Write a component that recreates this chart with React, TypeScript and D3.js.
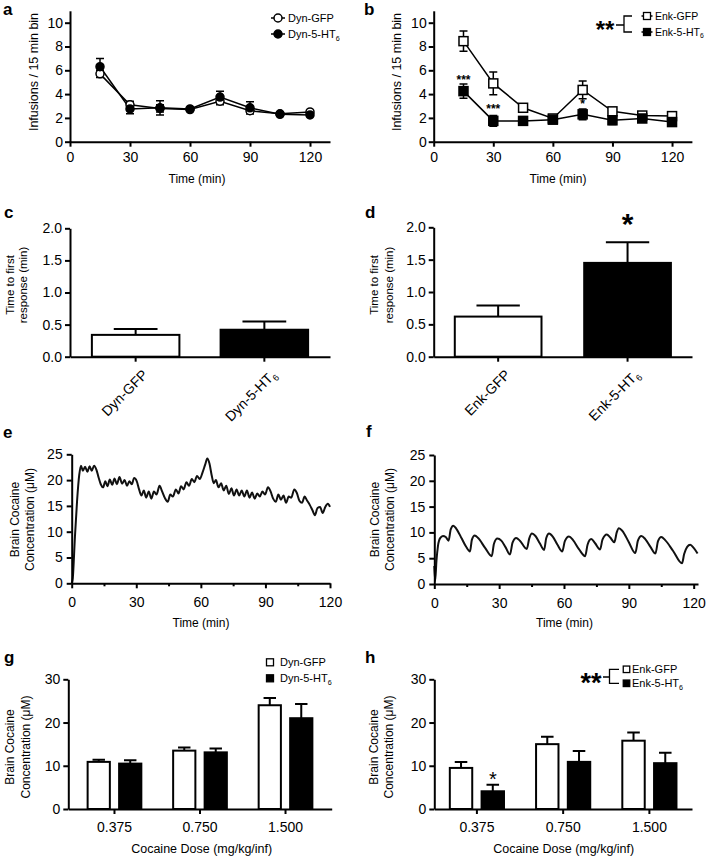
import React, { useEffect, useRef } from 'react';
import * as d3 from 'd3';

// a, b: infusions per 15 min bin
const timeBins = [15, 30, 45, 60, 75, 90, 105, 120];
const dynGfpMean = [5.7, 3.1, 2.8, 2.7, 3.4, 2.6, 2.35, 2.5];
const dynGfpSem = [0.3, 0.3, 0.3, 0.1, 0.3, 0.25, 0.1, 0.1];
const dynHt6Mean = [6.3, 2.75, 2.85, 2.75, 3.75, 2.85, 2.3, 2.25];
const dynHt6Sem = [0.7, 0.4, 0.6, 0.1, 0.5, 0.5, 0.1, 0.1];
const enkGfpMean = [8.45, 4.9, 2.85, 1.95, 4.35, 2.55, 2.2, 2.15];
const enkGfpSem = [0.85, 0.95, 0.25, 0.2, 0.75, 0.25, 0.2, 0.2];
const enkHt6Mean = [4.25, 1.75, 1.75, 1.85, 2.3, 1.8, 1.95, 1.65];
const enkHt6Sem = [0.6, 0.45, 0.35, 0.25, 0.45, 0.35, 0.3, 0.35];
const enkStars = [
  { t: 15, s: '***', v: 5.4 },
  { t: 30, s: '***', v: 3.0 },
  { t: 75, s: '*', v: 3.4 },
];

// c, d: time to first response
const dynGroups = ['Dyn-GFP', 'Dyn-5-HT6'];
const enkGroups = ['Enk-GFP', 'Enk-5-HT6'];
const dynLatency = [0.34, 0.42];
const dynLatencySem = [0.09, 0.13];
const enkLatency = [0.62, 1.45];
const enkLatencySem = [0.17, 0.32];

// e, f: modelled brain cocaine (t min, µM)
const dynModel: [number, number][] = [
  [0, 0], [0.5, 1], [1.5, 9], [2.5, 16], [3.5, 21], [4.3, 22.8], [5.2, 21.8], [6.2, 22.6],
  [7.3, 21.6], [8.3, 22.7], [9.3, 21.8], [10.4, 22.8], [11.5, 22], [12.5, 20.5], [13.5, 19.2],
  [14.6, 18.6], [15.6, 19.8], [16.6, 18.8], [17.7, 20.1], [18.8, 19.1], [19.9, 20.3], [21, 19.2],
  [22.2, 20.6], [23.4, 19.3], [24.6, 20], [25.7, 18.9], [26.8, 19.8], [27.9, 19.2], [29, 20.4],
  [30.2, 19.8], [31.3, 18.2], [32.4, 17], [33.5, 18], [34.6, 16.6], [35.8, 17.8], [37, 16.4],
  [38.2, 17.8], [39.4, 17.2], [40.8, 18.9], [42, 17.8], [43.2, 16.6], [44.6, 15.8], [45.8, 17.2],
  [47, 16.8], [48.4, 18.2], [49.6, 17.4], [50.8, 18.8], [52, 18.2], [53.3, 19.6], [54.5, 18.9],
  [55.8, 20.2], [57, 19.6], [58.2, 20.8], [59.5, 20.2], [60.8, 21.5], [62, 23], [63, 24.2],
  [64, 23.2], [65, 21], [66, 19.4], [67, 20], [68.2, 18.6], [69.4, 19.4], [70.6, 18], [71.8, 18.9],
  [73, 17.3], [74.2, 18.4], [75.4, 17], [76.6, 18.2], [77.8, 17], [79, 18], [80.2, 16.8], [81.4, 18],
  [82.6, 16.6], [83.8, 17.6], [85, 16.4], [86.2, 17.4], [87.4, 16.8], [88.6, 17.8], [89.8, 17.2],
  [91.2, 18.6], [92.4, 17.8], [93.6, 16.4], [94.8, 15.8], [96, 17.2], [97.2, 16.2], [98.4, 17],
  [99.6, 15.6], [100.8, 16.8], [102, 16.6], [103.4, 18.2], [104.6, 17.5], [105.8, 16], [107, 15.6],
  [108.2, 16.8], [109.4, 16], [110.6, 15.2], [111.8, 14.2], [113, 13.2], [114.2, 14.6], [115.4, 14.8],
  [116.6, 13.6], [117.8, 14.8], [119, 15.4], [120, 14.8],
];
const enkModel: [number, number][] = [
  [0, 3.5], [0.4, 0.6], [1.0, 4.5], [1.7, 7.4], [2.7, 8.9], [4.0, 9.3], [5.3, 9.1], [6.6, 8.4],
  [7.6, 10.6], [8.8, 11.3], [10.2, 10.7], [12.7, 8.8], [14.6, 7.3], [16.5, 6.3], [17.4, 8.6],
  [18.7, 9.4], [20.3, 8.9], [23.5, 7.0], [26.6, 5.4], [27.6, 7.8], [29.2, 8.8], [31, 8.4], [33, 7.1],
  [35.0, 5.7], [36.2, 8.0], [37.9, 8.9], [39.6, 8.4], [42.8, 6.8], [43.9, 8.8], [45.2, 9.8],
  [46.8, 9.3], [48.8, 7.9], [50.8, 6.6], [51.8, 8.9], [53.1, 9.8], [54.8, 9.2], [57, 7.6], [59.2, 6.3],
  [60.4, 8.3], [62.3, 9.2], [64.2, 8.5], [67, 6.7], [69.8, 5.4], [70.9, 7.6], [72.6, 8.7], [74.4, 7.9],
  [76.7, 6.7], [77.8, 8.6], [79.8, 9.6], [81.4, 9.0], [83.3, 8.1], [84.4, 10.0], [85.4, 10.8],
  [87.0, 10.3], [90.0, 8.1], [93.0, 6.0], [94.2, 8.4], [95.8, 9.3], [97.6, 8.7], [100.0, 7.2],
  [102.3, 5.9], [103.5, 8.3], [105.0, 9.1], [106.8, 8.5], [110.5, 6.4], [114.6, 4.0], [115.6, 5.8],
  [117.0, 7.2], [118.4, 7.6], [120.0, 7.0], [121.8, 5.9],
];

// g, h: brain cocaine by dose
const doses = ['0.375', '0.750', '1.500'];
const dynGfpConc = [10.9, 13.5, 24.0];
const dynGfpConcSem = [0.5, 0.7, 1.7];
const dynHt6Conc = [10.5, 13.1, 21.0];
const dynHt6ConcSem = [0.8, 0.9, 3.3];
const enkGfpConc = [9.5, 15.0, 15.8];
const enkGfpConcSem = [1.4, 1.7, 1.9];
const enkHt6Conc = [4.1, 10.9, 10.6];
const enkHt6ConcSem = [1.5, 2.5, 2.4];

const FONT = '"Liberation Sans", Arial, sans-serif';

const styleAxis = (g: any) => {
  g.attr('font-family', FONT).attr('font-size', 14);
  g.select('.domain').attr('stroke', '#000').attr('stroke-width', 2);
  g.selectAll('.tick line').attr('stroke', '#000').attr('stroke-width', 2);
  g.selectAll('.tick text').attr('fill', '#000');
};

const leftAxis = (svg: any, y: any, x0: number, ticks: number[], fmt: any, pad: number) => {
  const g = svg.append('g').attr('transform', `translate(${x0},0)`)
    .call(d3.axisLeft(y).tickValues(ticks).tickFormat(fmt).tickSize(5).tickPadding(pad).tickSizeOuter(0));
  styleAxis(g);
};

const bottomAxis = (svg: any, x: any, y0: number, ticks: any, pad: number, labels = true) => {
  let ax = d3.axisBottom(x).tickSize(5).tickPadding(pad).tickSizeOuter(0);
  if (ticks) ax = ax.tickValues(ticks);
  if (!labels) ax = ax.tickFormat(() => '');
  const g = svg.append('g').attr('transform', `translate(0,${y0})`).call(ax);
  styleAxis(g);
  return g;
};

const addText = (svg: any, x: number, y: number, s: string, size: number, anchor = 'middle', weight = 'normal') =>
  svg.append('text').attr('x', x).attr('y', y).attr('font-size', size).attr('font-family', FONT)
    .attr('font-weight', weight).attr('text-anchor', anchor).attr('fill', '#000').text(s);

// label ending in "HT6" gets a subscript 6
const withSub = (t: any, s: string, size: number) => {
  if (s.endsWith('HT6')) {
    t.text(null);
    t.append('tspan').text(s.slice(0, -1));
    t.append('tspan').text('6').attr('font-size', size * 0.65).attr('dy', size * 0.25);
  }
  return t;
};

const yTitle = (svg: any, lines: string[], xs: number[], cy: number, size: number) => {
  lines.forEach((s, i) => {
    svg.append('text').attr('transform', `translate(${xs[i]},${cy}) rotate(-90)`)
      .attr('text-anchor', 'middle').attr('font-size', size).attr('font-family', FONT).text(s);
  });
};

const drawTimecourse = (svg: any, xRange: [number, number], series: any[], shape: string) => {
  const x = d3.scaleLinear().domain([0, 130]).range(xRange);
  const y = d3.scaleLinear().domain([0, 11]).range([141.7, 10.8]);
  const line = d3.line<number>().x((_, i) => x(timeBins[i])).y(d => y(d));
  series.forEach(s => {
    svg.append('path').datum(s.mean).attr('d', line).attr('fill', 'none')
      .attr('stroke', '#000').attr('stroke-width', 1.5);
  });
  series.forEach(s => {
    s.mean.forEach((m: number, i: number) => {
      const cx = x(timeBins[i]);
      const top = y(m + s.sem[i]);
      const bot = y(m - s.sem[i]);
      svg.append('path')
        .attr('d', `M${cx},${top}V${bot}M${cx - 4},${top}H${cx + 4}M${cx - 4},${bot}H${cx + 4}`)
        .attr('stroke', '#000').attr('stroke-width', 1.5).attr('fill', 'none');
    });
  });
  series.forEach(s => {
    s.mean.forEach((m: number, i: number) => {
      const cx = x(timeBins[i]);
      if (shape === 'circle') {
        svg.append('circle').attr('cx', cx).attr('cy', y(m)).attr('r', 4)
          .attr('fill', s.filled ? '#000' : '#fff').attr('stroke', '#000').attr('stroke-width', 1.5);
      } else {
        svg.append('rect').attr('x', cx - 4.5).attr('y', y(m) - 4.5).attr('width', 9).attr('height', 9)
          .attr('fill', s.filled ? '#000' : '#fff').attr('stroke', '#000').attr('stroke-width', 1.5);
      }
    });
  });
  leftAxis(svg, y, xRange[0], [0, 2, 4, 6, 8, 10], d3.format('d'), 2);
  bottomAxis(svg, x, 141.7, [0, 30, 60, 90, 120], 5);
  return { x, y };
};

const drawLatency = (svg: any, xRange: [number, number], yTop: number, groups: string[], means: number[],
  sems: number[], pI: number, pO: number) => {
  const x = d3.scaleBand().domain(groups).range(xRange).paddingInner(pI).paddingOuter(pO);
  const y = d3.scaleLinear().domain([0, 2]).range([356.7, yTop]);
  const bw = x.bandwidth();
  groups.forEach((gname, i) => {
    const x0 = x(gname) as number;
    const cx = x0 + bw / 2;
    svg.append('path')
      .attr('d', `M${cx},${y(means[i])}V${y(means[i] + sems[i])}M${cx - bw * 0.25},${y(means[i] + sems[i])}H${cx + bw * 0.25}`)
      .attr('stroke', '#000').attr('stroke-width', 2).attr('fill', 'none');
    svg.append('rect').attr('x', x0).attr('y', y(means[i])).attr('width', bw)
      .attr('height', y(0) - y(means[i])).attr('fill', i === 0 ? '#fff' : '#000')
      .attr('stroke', '#000').attr('stroke-width', 2);
  });
  leftAxis(svg, y, xRange[0], [0, 0.5, 1, 1.5, 2], d3.format('.1f'), 3);
  bottomAxis(svg, x, 356.7, null, 3, false);
  groups.forEach(gname => {
    const cx = (x(gname) as number) + bw / 2;
    const t = svg.append('text')
      .attr('transform', `translate(${cx + 13},${356.7 + 19}) rotate(-45)`)
      .attr('text-anchor', 'end').attr('font-size', 14).attr('font-family', FONT).text(gname);
    withSub(t, gname, 14);
  });
  return { x, y };
};

const drawModel = (svg: any, xDomMax: number, xRange: [number, number], y0: number, y25: number, data: [number, number][]) => {
  const x = d3.scaleLinear().domain([0, xDomMax]).range(xRange);
  const y = d3.scaleLinear().domain([0, 25]).range([y0, y25]);
  const line = d3.line<[number, number]>().x(d => x(d[0])).y(d => y(d[1])).curve(d3.curveMonotoneX);
  svg.append('path').datum(data).attr('d', line).attr('fill', 'none')
    .attr('stroke', '#111').attr('stroke-width', 2).attr('stroke-linejoin', 'round');
  leftAxis(svg, y, xRange[0], [0, 5, 10, 15, 20, 25], d3.format('d'), 4);
  bottomAxis(svg, x, y0, [0, 30, 60, 90, 120], 9);
  const minor = svg.append('g').attr('transform', `translate(0,${y0})`)
    .call(d3.axisBottom(x).tickValues([15, 45, 75, 105]).tickSize(3).tickFormat(() => '').tickSizeOuter(0));
  minor.select('.domain').remove();
  minor.selectAll('.tick line').attr('stroke', '#000').attr('stroke-width', 2);
};

const drawDose = (svg: any, xRange: [number, number], pO: number, gfp: number[], gfpSem: number[],
  ht6: number[], ht6Sem: number[]) => {
  const x0 = d3.scaleBand().domain(doses).range(xRange).paddingInner(0.372).paddingOuter(pO);
  const x1 = d3.scaleBand().domain(['gfp', 'ht6']).range([0, x0.bandwidth()]).paddingInner(0.294);
  const y = d3.scaleLinear().domain([0, 30]).range([809, 679.3]);
  const bw = x1.bandwidth();
  doses.forEach((d, i) => {
    [{ k: 'gfp', m: gfp[i], e: gfpSem[i], f: '#fff' }, { k: 'ht6', m: ht6[i], e: ht6Sem[i], f: '#000' }].forEach(b => {
      const bx = (x0(d) as number) + (x1(b.k) as number);
      const cx = bx + bw / 2;
      svg.append('path')
        .attr('d', `M${cx},${y(b.m)}V${y(b.m + b.e)}M${cx - bw * 0.28},${y(b.m + b.e)}H${cx + bw * 0.28}`)
        .attr('stroke', '#000').attr('stroke-width', 2).attr('fill', 'none');
      svg.append('rect').attr('x', bx).attr('y', y(b.m)).attr('width', bw).attr('height', y(0) - y(b.m))
        .attr('fill', b.f).attr('stroke', '#000').attr('stroke-width', 2);
    });
  });
  leftAxis(svg, y, xRange[0], [0, 10, 20, 30], d3.format('d'), 3);
  bottomAxis(svg, x0, 809, null, 8);
  return { x0, x1, y };
};

const legendRow = (svg: any, cx: number, cy: number, shape: string, filled: boolean, label: string,
  size: number, lineHalf: number, symSize: number, textX: number) => {
  if (lineHalf > 0) {
    svg.append('path').attr('d', `M${cx - lineHalf},${cy}H${cx + lineHalf}`)
      .attr('stroke', '#000').attr('stroke-width', 1.5);
  }
  if (shape === 'circle') {
    svg.append('circle').attr('cx', cx).attr('cy', cy).attr('r', symSize / 2)
      .attr('fill', filled ? '#000' : '#fff').attr('stroke', '#000').attr('stroke-width', 1.5);
  } else {
    svg.append('rect').attr('x', cx - symSize / 2).attr('y', cy - symSize / 2)
      .attr('width', symSize).attr('height', symSize)
      .attr('fill', filled ? '#000' : '#fff').attr('stroke', '#000').attr('stroke-width', 1.3);
  }
  const t = addText(svg, textX, cy + size * 0.36, label, size, 'start');
  withSub(t, label, size);
};

const App = () => {
  const svgRef = useRef<SVGSVGElement>(null);

  useEffect(() => {
    const svg = d3.select(svgRef.current);
    svg.selectAll('*').remove();

    // panel letters
    [['a', 3, 15], ['b', 364, 15], ['c', 4, 218], ['d', 365, 218], ['e', 3, 438],
      ['f', 366, 437], ['g', 4, 663], ['h', 365, 663]].forEach(([s, x, y]) =>
      addText(svg, x as number, y as number, s as string, 17, 'start', 'bold'));

    // a
    drawTimecourse(svg, [70, 330], [
      { mean: dynGfpMean, sem: dynGfpSem, filled: false },
      { mean: dynHt6Mean, sem: dynHt6Sem, filled: true },
    ], 'circle');
    yTitle(svg, ['Infusions / 15 min bin'], [37.5], 72, 12.5);
    addText(svg, 197, 183, 'Time (min)', 12);
    legendRow(svg, 278, 18, 'circle', false, 'Dyn-GFP', 11, 7, 8, 288);
    legendRow(svg, 278, 34, 'circle', true, 'Dyn-5-HT6', 11, 7, 8, 288);

    // b
    const b = drawTimecourse(svg, [433.7, 691.9], [
      { mean: enkGfpMean, sem: enkGfpSem, filled: false },
      { mean: enkHt6Mean, sem: enkHt6Sem, filled: true },
    ], 'square');
    enkStars.forEach(s => addText(svg, b.x(s.t), b.y(s.v) + 6.5, s.s, 12, 'middle', 'bold'));
    yTitle(svg, ['Infusions / 15 min bin'], [401], 72, 12.5);
    addText(svg, 558, 183, 'Time (min)', 12);
    addText(svg, 605, 38.3, '**', 24, 'middle', 'bold');
    svg.append('path').attr('d', 'M616,25H624M632,16H624V32H632')
      .attr('stroke', '#000').attr('stroke-width', 1.3).attr('fill', 'none');
    legendRow(svg, 647, 16, 'square', false, 'Enk-GFP', 10.5, 5.5, 7, 655);
    legendRow(svg, 647, 32, 'square', true, 'Enk-5-HT6', 10.5, 5.5, 7, 655);

    // c
    drawLatency(svg, [70, 330], 228.3, dynGroups, dynLatency, dynLatencySem, 0.32, 0.17);
    yTitle(svg, ['Time to first', 'response (min)'], [14, 27], 285, 11.5);

    // d
    const d = drawLatency(svg, [433.7, 692], 227.3, enkGroups, enkLatency, enkLatencySem, 0.33, 0.163);
    addText(svg, (d.x('Enk-5-HT6') as number) + d.x.bandwidth() / 2, 233.7, '*', 30, 'middle', 'bold');
    yTitle(svg, ['Time to first', 'response (min)'], [378, 393], 285, 11.5);

    // e
    drawModel(svg, 120, [71.7, 330], 583.3, 454.3, dynModel);
    yTitle(svg, ['Brain Cocaine', 'Concentration (\u03bcM)'], [19, 34], 519.5, 12);
    addText(svg, 201, 627, 'Time (min)', 12);

    // f
    drawModel(svg, 122, [434.3, 698.0], 584, 455, enkModel);
    yTitle(svg, ['Brain Cocaine', 'Concentration (\u03bcM)'], [379, 394], 519.5, 12);
    addText(svg, 564.5, 627, 'Time (min)', 12);

    // g
    drawDose(svg, [68.3, 331.7], 0.226, dynGfpConc, dynGfpConcSem, dynHt6Conc, dynHt6ConcSem);
    yTitle(svg, ['Brain Cocaine', 'Concentration (\u03bcM)'], [14, 30], 747, 12);
    addText(svg, 201.7, 853, 'Cocaine Dose (mg/kg/inf)', 12.5);
    legendRow(svg, 270, 662.3, 'square', false, 'Dyn-GFP', 11, 0, 7, 280);
    legendRow(svg, 270, 678.3, 'square', true, 'Dyn-5-HT6', 11, 0, 7, 280);

    // h
    const h = drawDose(svg, [434.3, 692], 0.18, enkGfpConc, enkGfpConcSem, enkHt6Conc, enkHt6ConcSem);
    const starX = (h.x0('0.375') as number) + (h.x1('ht6') as number) + h.x1.bandwidth() / 2;
    addText(svg, starX, h.y(enkHt6Conc[0] + enkHt6ConcSem[0]) + 1.5, '*', 20);
    yTitle(svg, ['Brain Cocaine', 'Concentration (\u03bcM)'], [378, 393], 747, 12);
    addText(svg, 563.7, 853, 'Cocaine Dose (mg/kg/inf)', 12.5);
    addText(svg, 591, 691.7, '**', 27, 'middle', 'bold');
    svg.append('path').attr('d', 'M603,677H609.5M619,669.3H609.5V683.3H619')
      .attr('stroke', '#000').attr('stroke-width', 1.3).attr('fill', 'none');
    legendRow(svg, 626.5, 669.3, 'square', false, 'Enk-GFP', 11, 0, 6.5, 632);
    legendRow(svg, 626.5, 683.3, 'square', true, 'Enk-5-HT6', 11, 0, 6.5, 632);
  }, []);

  return (
    <svg ref={svgRef} width={714} height={856}
      style={{ position: 'absolute', left: 0, top: 0, background: '#fff' }} />
  );
};

export default App;
